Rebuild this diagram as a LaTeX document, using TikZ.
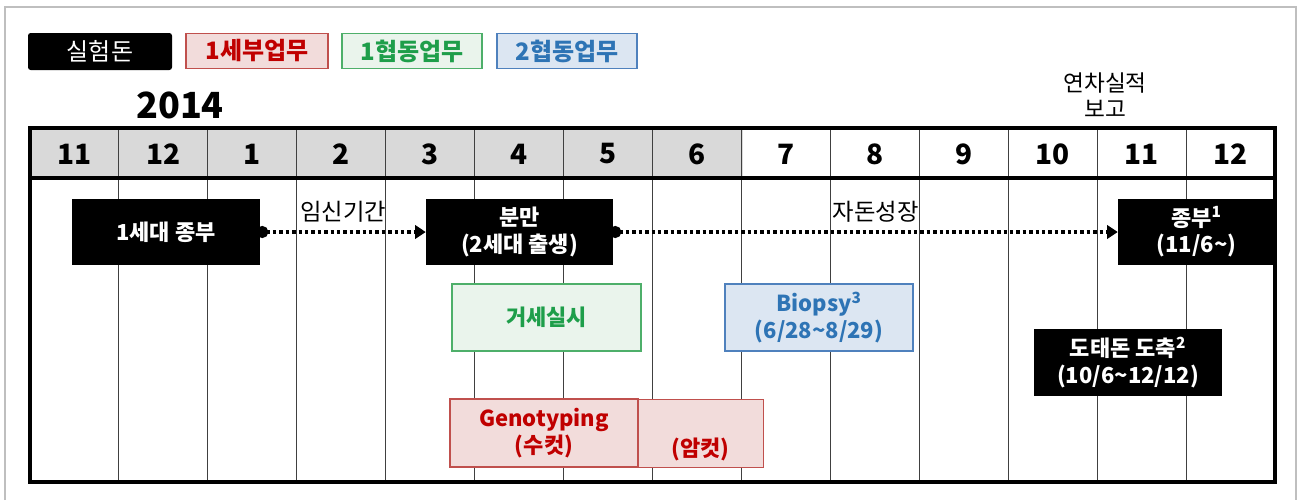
\documentclass[tikz,border=0pt]{standalone}
\usepackage{fontspec}
\setmainfont{Noto Sans CJK KR}
\usetikzlibrary{arrows.meta}
\definecolor{hdrgray}{HTML}{D9D9D9}
\definecolor{frm}{HTML}{BFBFBF}
\definecolor{redfill}{HTML}{F2DCDB}
\definecolor{redline}{HTML}{C0504D}
\definecolor{redtext}{HTML}{C00000}
\definecolor{grnfill}{HTML}{EAF4EC}
\definecolor{grnline}{HTML}{4EAF6A}
\definecolor{grntext}{HTML}{1E9E4A}
\definecolor{blufill}{HTML}{DCE6F2}
\definecolor{bluline}{HTML}{4F81BD}
\definecolor{blutext}{HTML}{2E74B5}
\tikzset{
  txt/.style={font=\fontsize{17.5}{20}\selectfont},
  boldtxt/.style={font=\bfseries\fontsize{16.5}{20}\selectfont, align=center},
  legtxt/.style={font=\bfseries\fontsize{18}{21}\selectfont},
  blackbox/.style={boldtxt, fill=black, text=white, draw=none, inner sep=0pt},
  redbox/.style={boldtxt, fill=redfill, draw=redline, line width=0.9pt, text=redtext, inner sep=0pt},
  grnbox/.style={boldtxt, fill=grnfill, draw=grnline, line width=0.9pt, text=grntext, inner sep=0pt},
  blubox/.style={boldtxt, fill=blufill, draw=bluline, line width=0.9pt, text=blutext, inner sep=0pt},
  monthlbl/.style={font=\bfseries\fontsize{21}{24}\selectfont},
  dotarrow/.style={line width=2.6pt, dash pattern=on 2.6pt off 2.2pt,
     {Circle[length=9pt,width=9pt]}-{Triangle[length=8pt,width=10pt]}, shorten <=-3pt},
  colline/.style={line width=0.8pt, draw=black!75},
}
\begin{document}
\begin{tikzpicture}[x=0.75pt,y=-0.75pt]
\useasboundingbox (0,0) rectangle (1300,500);
% outer frame
\draw[frm, line width=0.9pt] (5,500) -- (5,7) -- (1296,7) -- (1296,500);
% legend
\node[blackbox, minimum width=144*0.75pt, minimum height=37*0.75pt, rounded corners=2pt, font=\fontsize{18}{21}\selectfont] (lgA) at (100,51.5) {실험돈};
\node[redbox, legtxt, minimum width=142*0.75pt, minimum height=35*0.75pt] (lgB) at (257,51) {1세부업무};
\node[grnbox, legtxt, minimum width=140*0.75pt, minimum height=35*0.75pt] (lgC) at (412,51) {1협동업무};
\node[blubox, legtxt, minimum width=140*0.75pt, minimum height=35*0.75pt] (lgD) at (567,51) {2협동업무};
% year and report label
\node[font=\bfseries\fontsize{27}{30}\selectfont] (year) at (180,105) {2014};
\node[align=center, font=\fontsize{17}{20}\selectfont] (report) at (1105,95) {연차실적\\보고};
% header shading
\fill[hdrgray] (30,128) rectangle (743,178);
% column lines
\foreach \i in {1,...,13} {
  \draw[colline] ({30+\i*88.93},128) -- ({30+\i*88.93},482);
}
% month labels
\foreach \m [count=\i from 0] in {11,12,1,2,3,4,5,6,7,8,9,10,11,12} {
  \node[monthlbl] (m\i) at ({30+(\i+0.5)*88.93},154) {\m};
}
% header bottom line and table border
\draw[line width=2.4pt] (30,178) -- (1275,178);
\draw[line width=2.4pt] (30,128) rectangle (1275,482);
% boxes
\node[blackbox, minimum width=188*0.75pt, minimum height=66*0.75pt] (gen1) at (166,232) {1세대 종부};
\node[blackbox, minimum width=187*0.75pt, minimum height=66*0.75pt] (birth) at (519.5,232) {분만\\(2세대 출생)};
\node[blackbox, minimum width=157*0.75pt, minimum height=66*0.75pt] (mate) at (1196.5,232) {종부\textsuperscript{1}\\(11/6\textasciitilde)};
\node[grnbox, minimum width=189*0.75pt, minimum height=67*0.75pt] (castr) at (546.5,317.5) {거세실시};
\node[blubox, minimum width=188*0.75pt, minimum height=67*0.75pt] (biop) at (819,317.5) {Biopsy\textsuperscript{3}\\(6/28\textasciitilde8/29)};
\node[blackbox, minimum width=188*0.75pt, minimum height=67*0.75pt] (cull) at (1128,362.5) {도태돈 도축\textsuperscript{2}\\(10/6\textasciitilde12/12)};
\node[redbox, minimum width=188*0.75pt, minimum height=68*0.75pt] (geno) at (544,433) {Genotyping\\(수컷)};
\node[redbox, minimum width=125*0.75pt, minimum height=68*0.75pt, anchor=north west] (fem) at (638,399) {};
\node[boldtxt, text=redtext] (femlbl) at (700.5,449) {(암컷)};
% dotted arrows
\draw[dotarrow] (gen1.east) -- (birth.west) node[midway, above=3pt, txt] (lblA) {임신기간};
\draw[dotarrow] (birth.east) -- (mate.west) node[pos=0.52, above=3pt, txt] (lblB) {자돈성장};
\end{tikzpicture}
\end{document}
